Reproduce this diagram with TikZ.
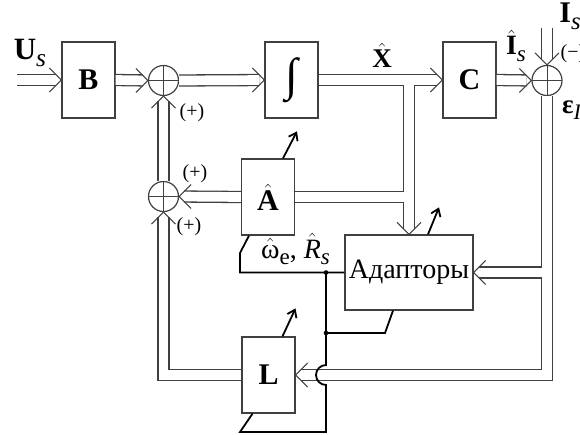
\documentclass[tikz,border=0pt]{standalone}
\usepackage{amsmath}
\usepackage{graphicx}
\usepackage{fontspec}
\setmainfont{Liberation Serif}
\usetikzlibrary{arrows.meta}
\newcommand\fsz[1]{\fontsize{#1}{#1}\selectfont}
\newcommand\lowsub[1]{\raisebox{-0.24em}{\scalebox{0.82}{#1}}}
% the vector (double) lines, drawn twice: outer pass, then inner pass
\newcommand\pipes[1]{%
  \draw[#1,shorten >=5pt] (usin) -- (B.west);
  \draw[#1,shorten >=5pt] (B.east) -- (s1.west);
  \draw[#1,shorten >=5pt] (s1.east) -- (int.west);
  \draw[#1,shorten >=5pt] (int.east) -- (C.west);
  \draw[#1,shorten >=5pt] (C.east) -- (s3.west);
  \draw[#1,shorten >=5pt] (istop) -- (s3.north);
  \draw[#1,shorten >=5pt] (s3.south) -- (s3.south |- L.east) -- (L.east);
  \draw[#1,shorten >=5pt] (s3.south |- ad.east) -- (ad.east);
  \draw[#1,shorten >=5pt] (ad.north |- int.east) -- (ad.north);
  \draw[#1] (ad.north |- A.east) -- (A.east);
  \draw[#1,shorten >=5pt] (A.west) -- (s2.east);
  \draw[#1,shorten >=5pt] (s2.north) -- (s1.south);
  \draw[#1,shorten >=5pt] (L.west) -- (L.west -| s2.south) -- (s2.south);
}
\begin{document}
\begin{tikzpicture}[x=1pt,y=1pt,
  blk/.style={draw=black!75,line width=1.3pt,minimum width=53pt,minimum height=76pt,
    inner sep=0pt,font=\fsz{30}\bfseries},
  sum/.style={circle,draw=black!75,line width=1.2pt,minimum size=30pt,inner sep=0pt,
    path picture={\draw[line width=1pt,black!75]
      (path picture bounding box.north) -- (path picture bounding box.south)
      (path picture bounding box.west) -- (path picture bounding box.east);}},
  pipeout/.style={draw=black!75,line width=12.3pt},
  pipein/.style={draw=white,line width=9.7pt},
  vtip/.pic={\draw[line width=1pt,black!75] (-12,12) -- (0,0) -- (-12,-12);},
  ctl/.style={draw=black,line width=1.8pt},
  adj/.style={ctl,-{Straight Barb[length=7pt,width=10pt]}},
  lbl/.style={inner sep=0pt,font=\fsz{27}},
  sgn/.style={inner sep=0pt,font=\fsz{20}}]
  \useasboundingbox (0,0) rectangle (580,-434);
  % blocks
  \node[blk] (B) at (88.5,-80) {B};
  \node[blk,font=\fsz{46}] (int) at (291.5,-80) {\raisebox{-0.1em}{∫}};
  \node[blk] (C) at (469.5,-80) {C};
  \node[blk] (A) at (268,-197) {$\hat{\textbf{A}}$};
  \node[blk] (L) at (268.5,-375) {L};
  \node[blk,minimum width=128pt,minimum height=75pt,font=\fsz{28}] (ad) at (409,-272.5) {Адапторы};
  \node[sum] (s1) at (163.5,-80.5) {};
  \node[sum] (s2) at (163.5,-196.5) {};
  \node[sum] (s3) at (547,-80.5) {};
  \coordinate (usin) at (17,-80);
  \coordinate (istop) at (547,-28);
  % vector lines
  \pipes{pipeout}
  \pipes{pipein}
  \pic at (B.west) {vtip};
  \pic at (s1.west) {vtip};
  \pic at (int.west) {vtip};
  \pic at (C.west) {vtip};
  \pic at (s3.west) {vtip};
  \pic[rotate=-90] at (s3.north) {vtip};
  \pic[rotate=-90] at (ad.north) {vtip};
  \pic[rotate=180] at (ad.east) {vtip};
  \pic[rotate=180] at (L.east) {vtip};
  \pic[rotate=180] at (s2.east) {vtip};
  \pic[rotate=90] at (s1.south) {vtip};
  \pic[rotate=90] at (s2.south) {vtip};
  % parameter lines
  \coordinate (j1) at (326,-272.5);
  \coordinate (j2) at (326,-333);
  \draw[ctl] (ad.west) -- (240,-272.5) -- (240,-253) -- ([xshift=-19pt]A.south);
  \draw[ctl] (j1) -- (326,-365) arc[start angle=90,end angle=270,radius=10]
    -- (326,-432) -- (240,-432) -- ([xshift=-16pt]L.south);
  \draw[ctl] (j2) -- (385,-333) -- ([xshift=-16pt]ad.south);
  \fill (j1) circle (2.3);
  \fill (j2) circle (2.3);
  \draw[adj] ([xshift=15pt]A.north) -- ++(14,27);
  \draw[adj] ([xshift=19pt]ad.north) -- ++(11,27);
  \draw[adj] ([xshift=14pt]L.north) -- ++(13,28);
  % labels
  \node[lbl,font=\fsz{31}] (us) at (30,-53) {\textbf{U}\lowsub{\textit{s}}};
  \node[lbl] (xh) at (382,-55) {$\hat{\textbf{X}}$};
  \node[lbl,font=\fsz{28}] (ih) at (516,-46) {$\hat{\textbf{I}}$\lowsub{\textit{s}}};
  \node[lbl,font=\fsz{30}] (is) at (570,-16) {\textbf{I}\lowsub{\textit{s}}};
  \node[sgn] (mn) at (573,-54) {(−)};
  \node[lbl] (eps) at (572,-110) {\textbf{ε}\lowsub{\textit{I}}};
  \node[sgn] (p1) at (192,-113) {(+)};
  \node[sgn] (p2) at (195,-174) {(+)};
  \node[sgn] (p3) at (189,-227) {(+)};
  \node[lbl,font=\fsz{28},anchor=base west] (par) at (261,-258)
    {$\hat{\text{ω}}$\lowsub{e}, $\hat{\textit{R}}$\lowsub{\textit{s}}};
\end{tikzpicture}
\end{document}
